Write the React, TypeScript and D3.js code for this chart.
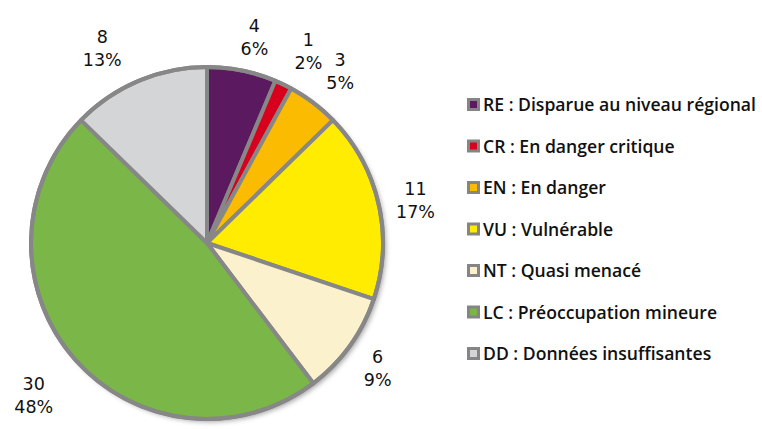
import { useEffect, useRef } from 'react';
import * as d3 from 'd3';

const codes = ['RE', 'CR', 'EN', 'VU', 'NT', 'LC', 'DD'];
const names = [
  'Disparue au niveau régional',
  'En danger critique',
  'En danger',
  'Vulnérable',
  'Quasi menacé',
  'Préoccupation mineure',
  'Données insuffisantes',
];
const counts = [4, 1, 3, 11, 6, 30, 8];
const percents = ['6%', '2%', '5%', '17%', '9%', '48%', '13%'];
const colors = ['#5b1a5f', '#d8001c', '#fbbb00', '#ffec00', '#fbf1cd', '#7ab648', '#d4d5d7'];

// label placement tweaks (best-fit style, like the original)
const labelDist = [212, 218, 218, 213, 211, 230, 222];
const labelTurn = [1.5, 2, 0.5, 1, 0.3, 0.3, -5.3];

export default function App() {
  const svgRef = useRef<SVGSVGElement>(null);

  useEffect(() => {
    if (!svgRef.current) return;
    const svg = d3.select(svgRef.current);
    svg.selectAll('*').remove();

    const cx = 207;
    const cy = 243;
    const radius = 176;

    const defs = svg.append('defs');
    const filter = defs.append('filter').attr('id', 'shadow')
      .attr('x', '-10%').attr('y', '-10%').attr('width', '120%').attr('height', '120%');
    filter.append('feDropShadow')
      .attr('dx', 3).attr('dy', 3).attr('stdDeviation', 2.5)
      .attr('flood-color', '#000').attr('flood-opacity', 0.35);

    const pie = d3.pie<number>().sort(null).value(d => d);
    const arcs = pie(counts);
    const arc = d3.arc<d3.PieArcDatum<number>>().innerRadius(0).outerRadius(radius);

    const g = svg.append('g').attr('transform', `translate(${cx},${cy})`);

    g.append('circle')
      .attr('r', radius)
      .attr('fill', '#878787')
      .attr('filter', 'url(#shadow)');

    g.selectAll('path.slice')
      .data(arcs)
      .join('path')
      .attr('class', 'slice')
      .attr('d', arc)
      .attr('fill', (_, i) => colors[i])
      .attr('stroke', '#878787')
      .attr('stroke-width', 4)
      .attr('stroke-linejoin', 'round');

    g.append('circle')
      .attr('r', radius)
      .attr('fill', 'none')
      .attr('stroke', '#878787')
      .attr('stroke-width', 4);

    // labels outside the pie
    const labels = g.selectAll('text.lbl')
      .data(arcs)
      .join('text')
      .attr('class', 'lbl')
      .attr('font-family', 'DejaVu Sans, sans-serif')
      .attr('font-size', 17.5)
      .attr('fill', '#111')
      .attr('text-anchor', 'middle')
      .attr('transform', (d, i) => {
        const mid = (d.startAngle + d.endAngle) / 2 + labelTurn[i] * Math.PI / 180;
        const r = labelDist[i];
        return `translate(${r * Math.sin(mid)},${-r * Math.cos(mid)})`;
      });
    labels.append('tspan').attr('x', 0).attr('dy', -4).text(d => d.data);
    labels.append('tspan').attr('x', 0).attr('dy', 23).text((_, i) => percents[i]);

    // legend
    const legendY = d3.scaleLinear().domain([0, codes.length - 1]).range([111, 360]);
    const rows = svg.append('g').selectAll('g')
      .data(codes)
      .join('g')
      .attr('transform', (_, i) => `translate(467,${legendY(i)})`);
    rows.append('rect')
      .attr('x', 0).attr('y', -13).attr('width', 13).attr('height', 13)
      .attr('fill', '#858585');
    rows.append('rect')
      .attr('x', 3).attr('y', -10).attr('width', 7).attr('height', 7)
      .attr('fill', (_, i) => colors[i]);
    rows.append('text')
      .attr('x', 16)
      .attr('y', 0)
      .attr('font-family', 'Open Sans, sans-serif')
      .attr('font-weight', 600)
      .attr('font-size', 17.6)
      .attr('fill', '#111')
      .text((c, i) => `${c} : ${names[i]}`);
  }, []);

  return (
    <svg
      ref={svgRef}
      width={762}
      height={429}
      style={{ position: 'absolute', left: 0, top: 0, background: '#fff' }}
    />
  );
}
